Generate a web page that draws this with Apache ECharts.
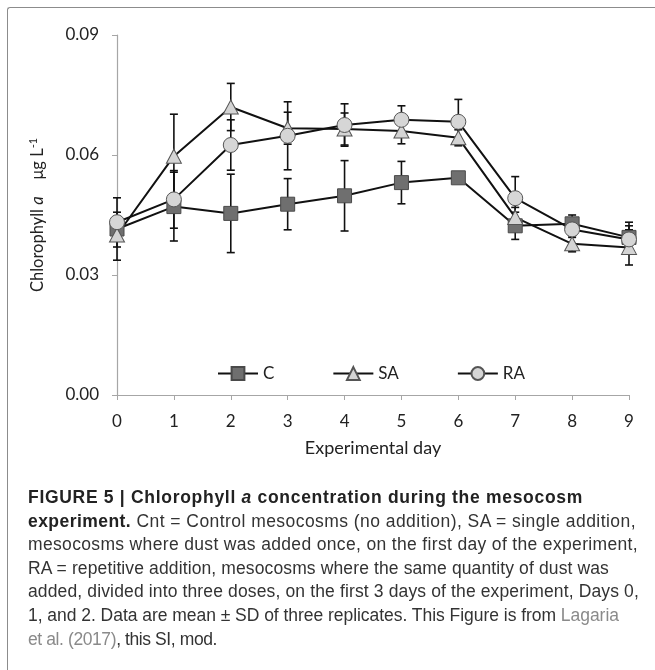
<!DOCTYPE html>
<html>
<head>
<meta charset="utf-8">
<script src="https://cdn.jsdelivr.net/npm/echarts@6/dist/echarts.min.js"></script>
<style>
  html, body { margin: 0; padding: 0; background: #fff; }
  #wrap { position: relative; width: 655px; height: 670px; overflow: hidden; }
  #frame { position: absolute; left: 7px; top: 7px; width: 700px; height: 700px;
           border-left: 1px solid #8c8c8c; border-top: 1px solid #8c8c8c; border-top-left-radius: 3px; }
  #chart { position: absolute; left: 0; top: 0; width: 655px; height: 670px; }
  #caption { position: absolute; left: 28px; top: 486px; font-family: "Liberation Sans", Arial, sans-serif;
             font-size: 17.5px; line-height: 23.6px; color: #333; white-space: nowrap; }
  #caption .l { display: inline-block; clear: both; float: left; }
  #caption b { font-weight: bold; color: #222; }
  #caption .lnk { color: #8a8a8a; }
</style>
</head>
<body>
<div id="wrap">
  <div id="frame"></div>
  <div id="chart"></div>
  <div id="caption">
    <span class="l"><b>FIGURE 5 | Chlorophyll <i>a</i> concentration during the mesocosm</b></span>
    <span class="l"><b>experiment.</b> Cnt = Control mesocosms (no addition), SA = single addition,</span>
    <span class="l">mesocosms where dust was added once, on the first day of the experiment,</span>
    <span class="l">RA = repetitive addition, mesocosms where the same quantity of dust was</span>
    <span class="l">added, divided into three doses, on the first 3 days of the experiment, Days 0,</span>
    <span class="l">1, and 2. Data are mean ± SD of three replicates. This Figure is from <span class="lnk">Lagaria</span></span>
    <span class="l"><span class="lnk">et al. (2017)</span>, this SI, mod.</span>
  </div>
</div>
<script>
// ---- data ----
const days = [0, 1, 2, 3, 4, 5, 6, 7, 8, 9];
const seriesNames = ['C', 'SA', 'RA'];
const valC  = [0.0415, 0.0471, 0.0454, 0.0477, 0.0498, 0.0531, 0.0543, 0.0423, 0.0428, 0.0394];
const valSA = [0.0400, 0.0597, 0.0720, 0.0667, 0.0665, 0.0660, 0.0643, 0.0444, 0.0378, 0.0369];
const valRA = [0.0432, 0.0489, 0.0625, 0.0648, 0.0675, 0.0688, 0.0683, 0.0492, 0.0414, 0.0389];
const sdC   = [0.0078, 0.0086, 0.0098, 0.0064, 0.0088, 0.0053, 0.0005, 0.0034, 0.0022, 0.0038];
const sdSA  = [0.0030, 0.0105, 0.0059, 0.0040, 0.0040, 0.0032, 0.0020, 0.0025, 0.0020, 0.0044];
const sdRA  = [0.0025, 0.0072, 0.0063, 0.0085, 0.0053, 0.0035, 0.0056, 0.0054, 0.0020, 0.0034];
const yTicks = [0, 0.03, 0.06, 0.09];
const xTicks = days;

// caption line widths (layout only)
const captionWidths = [555, 608, 610, 581, 611, 591, 189];
function fitCaption() {
  const lines = document.querySelectorAll('#caption .l');
  lines.forEach((el, i) => {
    el.style.letterSpacing = '0px';
    const w = el.getBoundingClientRect().width;
    const n = el.textContent.trim().length;
    if (n > 1) el.style.letterSpacing = ((captionWidths[i] - w) / n).toFixed(3) + 'px';
  });
}
fitCaption();
if (document.fonts && document.fonts.ready) document.fonts.ready.then(fitCaption);

const FONT = 'Lato, "Open Sans", sans-serif';
const chart = echarts.init(document.getElementById('chart'), null, { renderer: 'canvas' });

function pairs(vals) { return days.map((d, i) => [d, vals[i]]); }
function errData(vals, sds) { return days.map((d, i) => [d, vals[i] - sds[i], vals[i] + sds[i]]); }

function errSeries(vals, sds) {
  return {
    type: 'custom',
    data: errData(vals, sds),
    z: 1,
    silent: true,
    renderItem: function (params, api) {
      const x = api.value(0);
      const lo = api.coord([x, api.value(1)]);
      const hi = api.coord([x, api.value(2)]);
      const cap = 4;
      const st = { stroke: '#111', lineWidth: 1.6 };
      return {
        type: 'group',
        children: [
          { type: 'line', shape: { x1: lo[0], y1: lo[1], x2: hi[0], y2: hi[1] }, style: st },
          { type: 'line', shape: { x1: lo[0] - cap, y1: lo[1], x2: lo[0] + cap, y2: lo[1] }, style: st },
          { type: 'line', shape: { x1: hi[0] - cap, y1: hi[1], x2: hi[0] + cap, y2: hi[1] }, style: st }
        ]
      };
    }
  };
}

const lineBase = { type: 'line', z: 3, lineStyle: { color: '#111', width: 2 }, animation: false };

chart.setOption({
  animation: false,
  textStyle: { fontFamily: FONT },
  grid: { left: 117, right: 26, top: 35, bottom: 275, containLabel: false },
  legend: {
    left: 212, top: 360,
    itemWidth: 40, itemHeight: 16, itemGap: 58,
    data: seriesNames,
    textStyle: { fontFamily: FONT, fontSize: 17, color: '#222' }
  },
  xAxis: {
    type: 'value', min: 0, max: 9, interval: 1,
    name: 'Experimental day', nameLocation: 'middle', nameGap: 44,
    nameTextStyle: { fontFamily: FONT, fontSize: 18, color: '#222' },
    axisLine: { show: true, lineStyle: { color: '#a6a6a6', width: 1.2 } },
    axisTick: { show: true, inside: false, length: 5, lineStyle: { color: '#a6a6a6' } },
    axisLabel: { fontFamily: FONT, fontSize: 17, color: '#222', margin: 18,
                 formatter: v => xTicks.includes(v) ? String(v) : '' },
    splitLine: { show: false }
  },
  yAxis: {
    type: 'value', min: 0, max: 0.09, interval: 0.03,
    name: '{n|Chlorophyll }{i|a}{n|    μg L}{s|-1}', nameLocation: 'middle', nameRotate: 90, nameGap: 70,
    nameTextStyle: {
      rich: {
        n: { fontFamily: FONT, fontSize: 16.5, color: '#222' },
        i: { fontFamily: FONT, fontSize: 16.5, fontStyle: 'italic', color: '#222' },
        s: { fontFamily: FONT, fontSize: 11, color: '#222', verticalAlign: 'top', padding: [0, 0, 8, 0] }
      }
    },
    axisLine: { show: true, lineStyle: { color: '#a6a6a6', width: 1.2 } },
    axisTick: { show: true, inside: false, length: 5, lineStyle: { color: '#a6a6a6' } },
    axisLabel: { fontFamily: FONT, fontSize: 17, color: '#222', margin: 18,
                 formatter: v => yTicks.some(t => Math.abs(t - v) < 1e-9) ? v.toFixed(2) : '' },
    splitLine: { show: false }
  },
  series: [
    errSeries(valC, sdC),
    errSeries(valSA, sdSA),
    errSeries(valRA, sdRA),
    Object.assign({}, lineBase, {
      name: 'C', data: pairs(valC), symbol: 'rect', symbolSize: 14,
      itemStyle: { color: '#6f6f6f', borderColor: '#4a4a4a', borderWidth: 1 }
    }),
    Object.assign({}, lineBase, {
      name: 'SA', data: pairs(valSA), symbol: 'triangle', symbolSize: [15, 14],
      itemStyle: { color: '#d4d4d4', borderColor: '#555', borderWidth: 1 }
    }),
    Object.assign({}, lineBase, {
      name: 'RA', data: pairs(valRA), symbol: 'circle', symbolSize: 15,
      itemStyle: { color: '#d6d6d6', borderColor: '#555', borderWidth: 1 }
    })
  ]
});
</script>
</body>
</html>
